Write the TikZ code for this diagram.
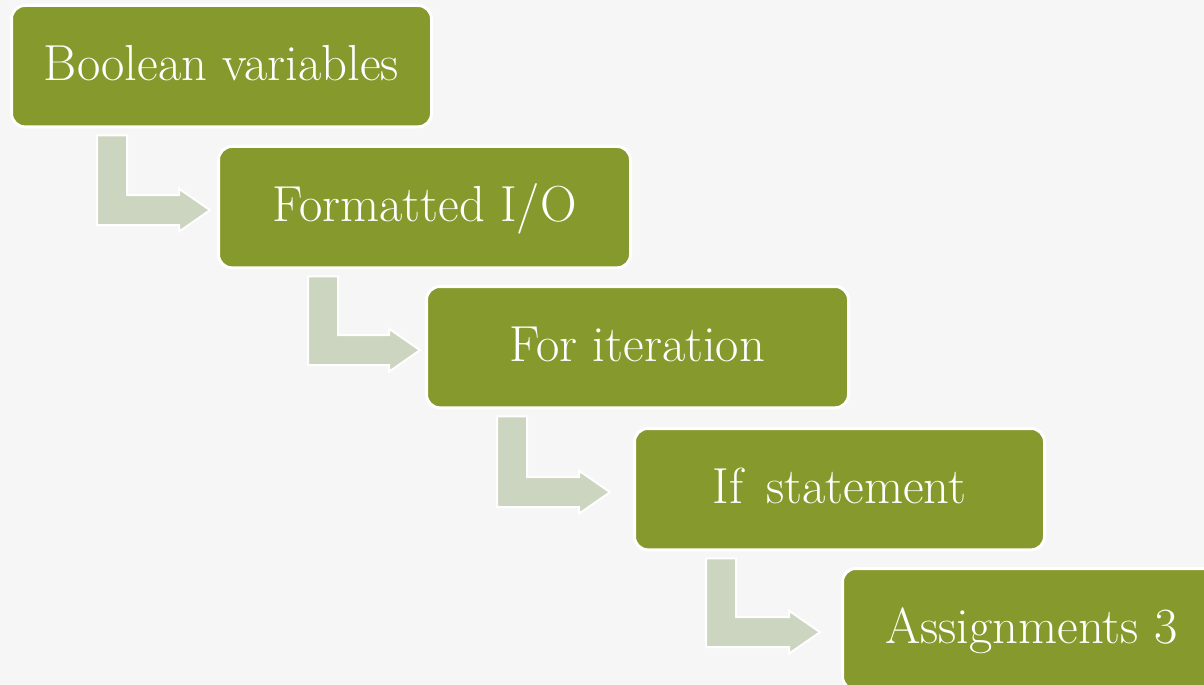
\documentclass[tikz,border=0pt]{standalone}
\usetikzlibrary{calc}
\definecolor{boxgreen}{HTML}{86992C}
\definecolor{arrowgray}{HTML}{CCD5BF}
\definecolor{bgc}{HTML}{F6F6F6}
\tikzset{
  stepbox/.style={draw=white, line width=2.25pt, fill=boxgreen, rounded corners=10pt,
    anchor=north west, inner sep=0pt, text=white,
    font=\fontsize{38}{45}\selectfont, text height=21pt, text depth=0pt,
    minimum height=91pt},
  bentarrow/.style={fill=arrowgray, draw=white, line width=1.5pt, line join=miter}
}
% #1 from node, #2 to node, #3 left x of the vertical bar (px), #4 gap before target (px)
\newcommand\bentconn[4]{%
  \path[bentarrow] let \p1=(#1.south), \p2=(#2.west) in
    ({#3*0.75pt},{\y1-5.25pt})
    -- ({#3*0.75pt+22.5pt},{\y1-5.25pt})
    -- ({#3*0.75pt+22.5pt},{\y2-2.25pt+11.25pt})
    -- ({\x2-#4*0.75pt-23.25pt},{\y2-2.25pt+11.25pt})
    -- ({\x2-#4*0.75pt-23.25pt},{\y2-2.25pt+16.125pt})
    -- ({\x2-#4*0.75pt},{\y2-2.25pt})
    -- ({\x2-#4*0.75pt-23.25pt},{\y2-2.25pt-16.125pt})
    -- ({\x2-#4*0.75pt-23.25pt},{\y2-2.25pt-11.25pt})
    -- ({#3*0.75pt},{\y2-2.25pt-11.25pt})
    -- cycle;
}
\begin{document}
\begin{tikzpicture}[x=0.75pt,y=-0.75pt]
  \useasboundingbox (0,0) rectangle (1204,685);
  \fill[bgc] (0,0) rectangle (1204,685);
  \clip (0,0) rectangle (1204,685);

  \node[stepbox, minimum width=315pt]   (b1) at (10,4)    {Boolean variables};
  \node[stepbox, minimum width=309pt]   (b2) at (217,145) {Formatted I/O};
  \node[stepbox, minimum width=316.5pt] (b3) at (425,285) {For iteration};
  \node[stepbox, minimum width=307.5pt] (b4) at (633,427) {If\hspace{0.45em}statement};
  \node[stepbox, minimum width=283.5pt] (b5) at (841,567) {Assignments 3};

  \bentconn{b1}{b2}{97}{7}
  \bentconn{b2}{b3}{308}{5}
  \bentconn{b3}{b4}{497}{23}
  \bentconn{b4}{b5}{706}{21}
\end{tikzpicture}
\end{document}
